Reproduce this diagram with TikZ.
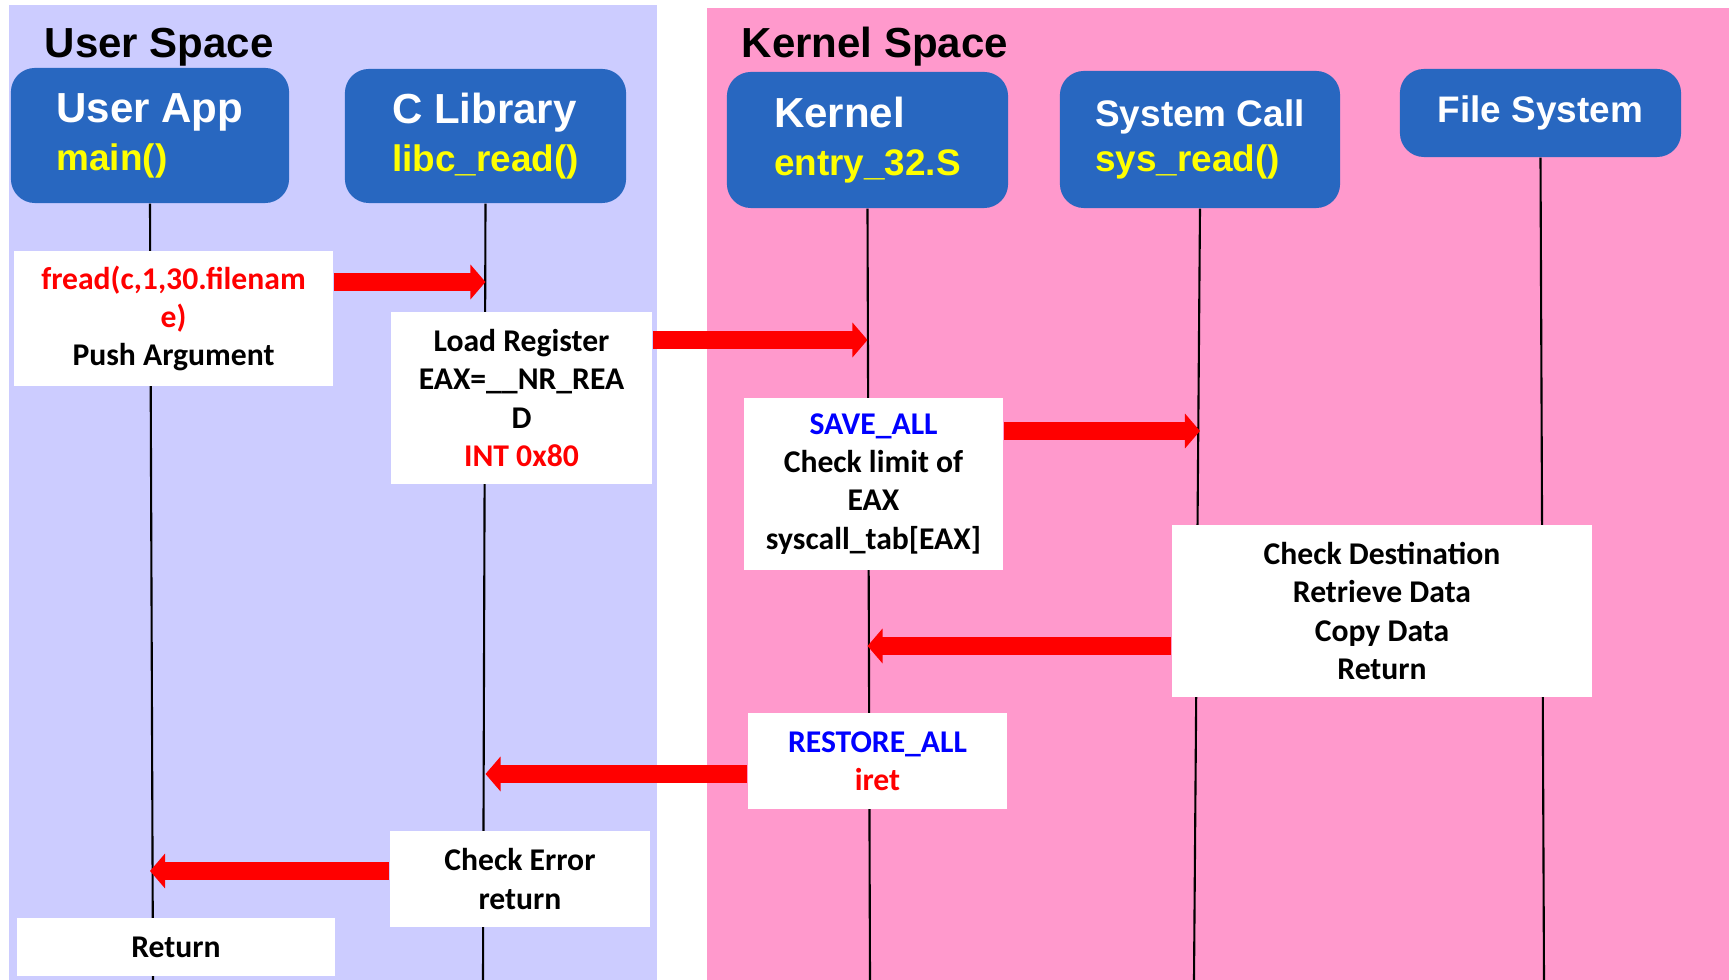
\documentclass[tikz,border=0pt]{standalone}
\usepackage{fontspec}
\setmainfont{Carlito}
\newfontfamily\arialfont{Liberation Sans}
\usetikzlibrary{positioning, arrows.meta}

\definecolor{userbg}{HTML}{CCCCFF}
\definecolor{kernelbg}{HTML}{FF99CC}
\definecolor{headblue}{HTML}{2867C0}
\definecolor{codeyellow}{HTML}{FFFF00}

\newcommand{\subname}[1]{{\color{codeyellow}\fontsize{10.5pt}{13.6pt}\selectfont #1}}

\begin{document}
\begin{tikzpicture}[
				x=0.01cm, y=-0.01cm,
				spacetitle/.style={font=\arialfont\bfseries\fontsize{11.95pt}{13pt}\selectfont, inner sep=0pt},
				headnode/.style={rounded corners=0.24cm, fill=headblue, text=white, align=left, inner sep=0pt,
						font=\arialfont\bfseries\fontsize{11.95pt}{13.6pt}\selectfont},
				smallhead/.style={font=\arialfont\bfseries\fontsize{10.5pt}{12.6pt}\selectfont},
				stepnode/.style={fill=white, align=center, inner sep=0pt,
						font=\bfseries\fontsize{9pt}{10.85pt}\selectfont},
				lifeline/.style={draw=black, line width=0.6pt},
				flow/.style={draw=red, line width=0.18cm, -{Triangle[length=0.15cm, width=0.34cm]}}
			]

			\useasboundingbox (0,0) rectangle (1729,980);

			% the two address spaces
			\fill[userbg] (9,5) rectangle (657,980);
			\fill[kernelbg] (707,8) rectangle (1729,980);
			\node[spacetitle, anchor=west] (usertitle) at (44,47) {User Space};
			\node[spacetitle, anchor=west] (kerneltitle) at (741,47) {Kernel Space};

			% participants
			\node[headnode, minimum width=2.78cm, minimum height=1.35cm] (user) at (150,135.5) {User App\\\subname{main()}};
			\node[headnode, minimum width=2.81cm, minimum height=1.34cm] (clib) at (485.5,136) {C Library\\\subname{libc\_read()}};
			\node[headnode, minimum width=2.81cm, minimum height=1.36cm] (kernel) at (867.5,140) {Kernel\\\subname{entry\_32.S}};
			\node[headnode, smallhead, minimum width=2.80cm, minimum height=1.37cm] (syscall) at (1200,139.5) {System Call\\\subname{sys\_read()}};
			\node[headnode, smallhead, minimum width=2.81cm, minimum height=0.88cm] (fs) at (1540.5,113) {File System};

			% lifelines
			\foreach \n/\x in {user/153, clib/483, kernel/870, syscall/1194, fs/1544} {
					\coordinate (\n-end) at (\x,980);
					\draw[lifeline] (\n.south) -- (\n-end);
				}

			% steps
			\node[stepnode, minimum width=3.19cm, minimum height=1.35cm] (fread) at (173.5,318.5)
			{\color{red}fread(c,1,30.filenam\\\color{red}e)\\Push Argument};
			\node[stepnode, minimum width=2.61cm, minimum height=1.72cm] (loadreg) at (521.5,398)
			{Load Register\\EAX=\_\_NR\_REA\\D\\\color{red}INT 0x80};
			\node[stepnode, minimum width=2.59cm, minimum height=1.72cm] (saveall) at (873.5,484)
			{\color{blue}SAVE\_ALL\\Check limit of\\EAX\\syscall\_tab[EAX]};
			\node[stepnode, minimum width=4.20cm, minimum height=1.72cm] (checkdst) at (1382,611)
			{Check Destination\\Retrieve Data\\Copy Data\\Return};
			\node[stepnode, minimum width=2.59cm, minimum height=0.96cm] (restore) at (877.5,761)
			{\color{blue}RESTORE\_ALL\\\color{red}iret};
			\node[stepnode, minimum width=2.60cm, minimum height=0.96cm] (checkerr) at (520,879)
			{Check Error\\return};
			\node[stepnode, minimum width=3.18cm, minimum height=0.58cm] (ret) at (176,947) {Return};

			% calls and returns
			\coordinate (lvl-1) at (0,282);
			\coordinate (lvl-2) at (0,340);
			\coordinate (lvl-3) at (0,431);
			\coordinate (lvl-4) at (0,646);
			\coordinate (lvl-5) at (0,774);
			\coordinate (lvl-6) at (0,871);

			\draw[flow] (fread.east |- lvl-1) -- (clib |- lvl-1);
			\draw[flow] (loadreg.east |- lvl-2) -- (kernel |- lvl-2);
			\draw[flow] (saveall.east |- lvl-3) -- (syscall |- lvl-3);
			\draw[flow] (checkdst.west |- lvl-4) -- (kernel |- lvl-4);
			\draw[flow] (restore.west |- lvl-5) -- (clib |- lvl-5);
			\draw[flow] (checkerr.west |- lvl-6) -- (user |- lvl-6);

		\end{tikzpicture}
\end{document}
